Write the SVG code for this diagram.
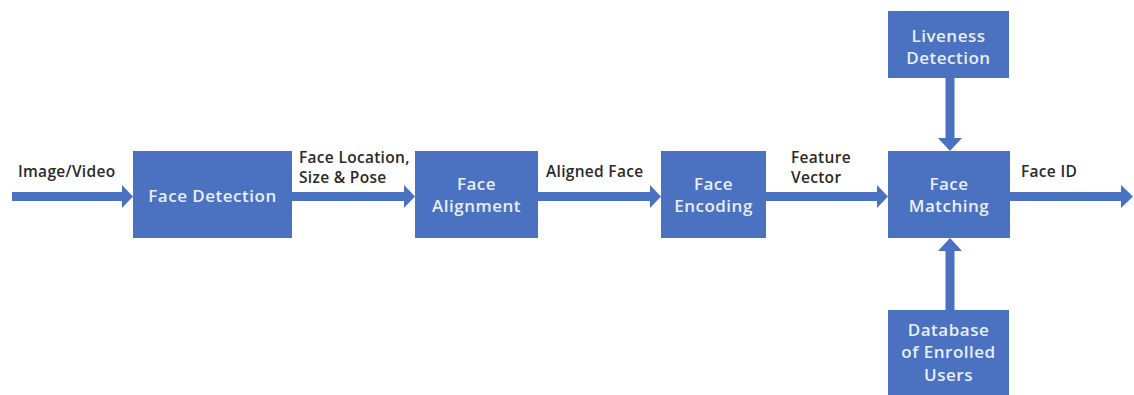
<svg xmlns="http://www.w3.org/2000/svg" width="1134" height="395" viewBox="0 0 1134 395">
<style>
.box{fill:#4a72c0;}
.bt{font-family:"Open Sans","Liberation Sans",sans-serif;font-weight:600;font-size:17px;letter-spacing:0.5px;fill:#e8eefa;text-anchor:middle;}
.lb{font-family:"Open Sans","Liberation Sans",sans-serif;font-weight:600;font-size:15.5px;letter-spacing:0.3px;fill:#2a2a2a;}
.ar{fill:#4a72c0;}
</style>
<rect width="1134" height="395" fill="#ffffff"/>
<g id="connectors">
<polygon class="ar" points="12,192 122,192 122,185 133,196.5 122,208 122,201 12,201"/>
<polygon class="ar" points="292,192 404,192 404,185 415,196.5 404,208 404,201 292,201"/>
<polygon class="ar" points="538,192 650,192 650,185 661,196.5 650,208 650,201 538,201"/>
<polygon class="ar" points="766,192 877,192 877,185 888,196.5 877,208 877,201 766,201"/>
<polygon class="ar" points="1010,192 1121,192 1121,185 1133,196.5 1121,208 1121,201 1010,201"/>
<polygon class="ar" points="945.5,78 954.5,78 954.5,138 962,138 950,151 938,138 945.5,138"/>
<polygon class="ar" points="945.5,310 954.5,310 954.5,251 962,251 950,238 938,251 945.5,251"/>
<text class="lb" x="18" y="177">Image/Video</text>
<text class="lb" x="299" y="163">Face Location,</text>
<text class="lb" x="299" y="183">Size &amp; Pose</text>
<text class="lb" x="546" y="177">Aligned Face</text>
<text class="lb" x="791" y="163">Feature</text>
<text class="lb" x="791" y="183">Vector</text>
<text class="lb" x="1021" y="177">Face ID</text>
</g>
<g id="face-detection"><rect class="box" x="133" y="151" width="159" height="87"/><text class="bt" x="212.5" y="202">Face Detection</text></g>
<g id="face-alignment"><rect class="box" x="415" y="151" width="123" height="87"/><text class="bt" x="476.5" y="190">Face</text><text class="bt" x="476.5" y="212">Alignment</text></g>
<g id="face-encoding"><rect class="box" x="661" y="151" width="105" height="87"/><text class="bt" x="713.5" y="190">Face</text><text class="bt" x="713.5" y="212">Encoding</text></g>
<g id="face-matching"><rect class="box" x="888" y="151" width="122" height="87"/><text class="bt" x="949" y="190">Face</text><text class="bt" x="949" y="212">Matching</text></g>
<g id="liveness-detection"><rect class="box" x="888" y="11" width="121" height="67"/><text class="bt" x="948.5" y="42">Liveness</text><text class="bt" x="948.5" y="64">Detection</text></g>
<g id="database"><rect class="box" x="888" y="310" width="121" height="85"/><text class="bt" x="948.5" y="336">Database</text><text class="bt" x="948.5" y="358">of Enrolled</text><text class="bt" x="948.5" y="381">Users</text></g>
</svg>
